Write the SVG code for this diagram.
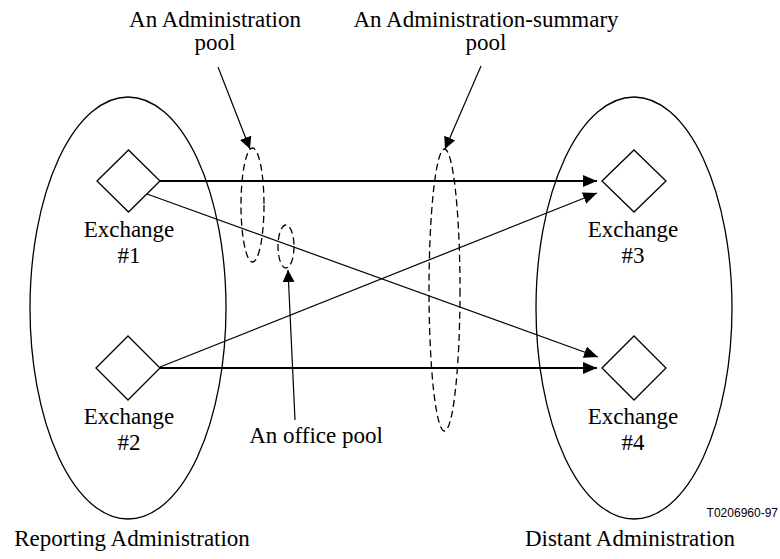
<svg xmlns="http://www.w3.org/2000/svg" width="780" height="559" viewBox="0 0 780 559">
<defs>
<marker id="ah" markerUnits="userSpaceOnUse" markerWidth="14" markerHeight="12" refX="14" refY="6" orient="auto"><path d="M0,0 L14,6 L0,12 z" fill="#000"/></marker>
<marker id="ap" markerUnits="userSpaceOnUse" markerWidth="12" markerHeight="12" refX="12" refY="6" orient="auto"><path d="M0,0 L12,6 L0,12 z" fill="#000"/></marker>
<style>
.t{font-family:"Liberation Serif","Times New Roman",serif;font-size:23px;fill:#000;text-anchor:middle}
.s{font-family:"Liberation Sans",Arial,sans-serif;font-size:12px;fill:#000;text-anchor:end}
.dia{fill:#fff;stroke:#000;stroke-width:1.3}
.reg{fill:none;stroke:#000;stroke-width:1.3}
.pool{fill:none;stroke:#000;stroke-width:1.3;stroke-dasharray:7 4}
.thick{stroke:#000;stroke-width:2.2;fill:none}
.thin{stroke:#000;stroke-width:1.2;fill:none}
</style>
</defs>
<rect width="780" height="559" fill="#fff"/>
<g id="reporting">
<ellipse class="reg" cx="128" cy="308" rx="98" ry="211"/>
<text class="t" x="132" y="546">Reporting Administration</text>
</g>
<g id="distant">
<ellipse class="reg" cx="634" cy="308" rx="98" ry="211"/>
<text class="t" x="630" y="546">Distant Administration</text>
</g>
<g id="admin-pool">
<ellipse class="pool" cx="252.5" cy="205" rx="11.5" ry="57"/>
<text class="t" x="215" y="27">An Administration</text>
<text class="t" x="215" y="50">pool</text>
</g>
<g id="office-pool">
<ellipse class="pool" cx="286" cy="246.5" rx="8" ry="21.5"/>
<text class="t" x="316" y="443">An office pool</text>
</g>
<g id="summary-pool">
<ellipse class="pool" cx="444.5" cy="290" rx="15.5" ry="141"/>
<text class="t" x="486" y="27">An Administration-summary</text>
<text class="t" x="486" y="50">pool</text>
</g>
<g id="connectors">
<line class="thick" x1="160" y1="181" x2="597" y2="181" marker-end="url(#ah)"/>
<line class="thick" x1="160" y1="368" x2="597" y2="368" marker-end="url(#ah)"/>
<line class="thin" x1="147" y1="194" x2="598" y2="357" marker-end="url(#ah)"/>
<line class="thin" x1="160" y1="367" x2="597" y2="193" marker-end="url(#ah)"/>
<line class="thin" x1="218" y1="67" x2="250" y2="149" marker-end="url(#ap)"/>
<line class="thin" x1="481" y1="66" x2="445" y2="149" marker-end="url(#ap)"/>
<line class="thin" x1="295" y1="420" x2="288" y2="270" marker-end="url(#ap)"/>
</g>
<g id="exchange1">
<polygon class="dia" points="97,181 128.5,150 160,181 128.5,212"/>
<text class="t" x="129" y="237">Exchange</text>
<text class="t" x="129" y="263">#1</text>
</g>
<g id="exchange2">
<polygon class="dia" points="96,368 128,336 160,368 128,400"/>
<text class="t" x="129" y="424">Exchange</text>
<text class="t" x="129" y="450">#2</text>
</g>
<g id="exchange3">
<polygon class="dia" points="602,181 634,150 666,181 634,212"/>
<text class="t" x="633" y="237">Exchange</text>
<text class="t" x="633" y="263">#3</text>
</g>
<g id="exchange4">
<polygon class="dia" points="602,368 634,336 666,368 634,400"/>
<text class="t" x="633" y="424">Exchange</text>
<text class="t" x="633" y="450">#4</text>
</g>
<text class="s" x="778" y="517">T0206960-97</text>
</svg>
